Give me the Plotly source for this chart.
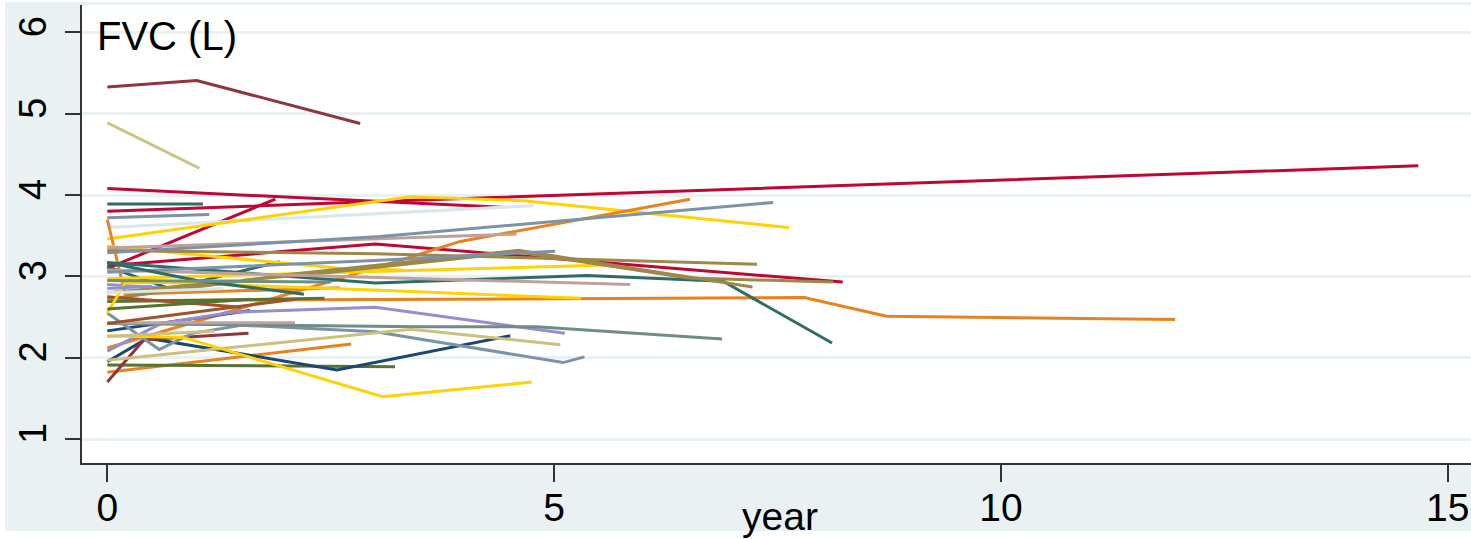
import plotly.graph_objects as go

# ---- data: one list of follow-up years and one list of FVC values per subject ----
subject_years = [
    [0, 1.0, 2.83], [0, 1.03], [0, 3.0, 4.42], [0, 3.0, 14.67], [0, 1.88],
    [0, 3.0, 8.23], [0, 1.07], [0, 1.14], [0, 4.77], [0, 3.39, 4.66, 7.63],
    [0, 0.2, 2.6], [0, 2.73], [0, 3.05, 3.95, 6.52], [0, 7.8, 8.72, 11.95],
    [0, 3.0, 5.37, 6.89, 8.11], [0, 0.7, 1.93], [0, 2.43], [0, 3.22],
    [0, 0.45, 2.57, 4.51], [0, 1.6], [0, 0.6, 1.4, 3.0, 5.12], [0, 1.0],
    [0, 0.41, 1.58], [0, 0.58, 0.95, 1.5, 3.0, 5.1, 5.34], [0, 2.0, 3.5, 4.8, 6.88],
    [0, 3.4, 5.07], [0, 0.85, 3.08, 4.75], [0, 5.6], [0, 2.6, 3.3], [0, 3.05, 5.3],
    [0, 3.0, 7.27], [0, 2.0, 4.6, 7.22], [0, 2.5, 4.6, 6.5, 8.12], [0, 4.58],
    [0, 5.85], [0, 2.1], [0, 3.05, 7.45], [0, 3.05, 5.01], [0, 2.1], [0, 1.5],
    [0, 0.2, 1.5], [0, 1.0, 2.2], [0, 2.5], [0, 1.2], [0, 1.6], [0, 0.5], [0, 1.3],
]
subject_fvc = [
    [5.33, 5.41, 4.88], [4.89, 4.33], [4.08, 3.93, 3.85], [3.80, 3.92, 4.36], [3.10, 3.95],
    [3.13, 3.40, 2.93], [3.89, 3.89], [3.72, 3.76], [3.60, 3.87], [3.46, 3.98, 3.93, 3.60],
    [3.70, 2.78, 2.86], [1.82, 2.17], [2.12, 3.12, 3.43, 3.95], [2.70, 2.74, 2.51, 2.47],
    [3.17, 2.92, 3.01, 2.94, 2.18], [3.12, 2.85, 3.18], [2.69, 2.73], [1.91, 1.89],
    [1.95, 2.24, 1.85, 2.27], [2.33, 2.58], [2.08, 2.42, 2.56, 2.62, 2.30], [2.90, 2.83],
    [1.70, 2.22, 2.30], [2.55, 2.10, 2.30, 2.40, 2.32, 1.94, 2.01], [2.42, 2.40, 2.38, 2.38, 2.23],
    [1.97, 2.35, 2.16], [2.27, 2.25, 1.52, 1.70], [2.97, 3.14], [3.37, 3.10, 3.08], [2.95, 2.83, 2.73],
    [3.32, 3.28, 3.15], [2.72, 3.02, 3.32, 2.87], [2.80, 3.05, 3.30, 2.98, 2.93], [3.35, 3.52],
    [3.08, 2.90], [2.43, 2.43], [3.29, 3.49, 3.91], [3.05, 3.20, 3.31], [2.42, 2.72], [2.75, 2.62],
    [2.55, 2.92, 2.95], [3.17, 2.95, 2.78], [2.95, 2.93], [2.26, 2.33], [2.60, 2.72], [2.85, 2.88], [2.80, 2.85],
]
subject_color = [
    "maroon", "khaki", "cranberry", "cranberry", "cranberry",
    "cranberry", "emerald", "emidblue", "bluishgray", "gold",
    "dkorange", "dkorange", "dkorange", "dkorange",
    "emerald", "emerald", "forest", "forest",
    "navy", "navy", "lavender", "lavender",
    "maroon", "emidblue", "teal",
    "khaki", "gold", "gold", "gold", "gold",
    "brown", "brown", "brown", "erose",
    "erose", "erose", "emidblue", "emidblue", "sienna", "sienna",
    "gold", "emerald", "teal", "khaki", "forest", "lavender", "bluishgray",
]
x_ticks = [0, 5, 10, 15]
y_ticks = [1, 2, 3, 4, 5, 6]
x_title = "year"
y_title = "FVC (L)"

# ---- styles ----
palette = {
    "maroon": "#90353b", "khaki": "#cac27e", "cranberry": "#c10534",
    "emerald": "#2d6d66", "emidblue": "#7b92a8", "bluishgray": "#d9e6eb",
    "gold": "#ffd200", "dkorange": "#e8821e", "forest": "#55752f",
    "navy": "#1a476f", "lavender": "#938dd2", "teal": "#6e8e84",
    "brown": "#9c8847", "erose": "#bfa19c", "sienna": "#a0522d",
}
BG = "#EAF1F3"
FONT = "Liberation Sans, Arial, Helvetica, sans-serif"

fig = go.Figure()
for yrs, vals, cname in zip(subject_years, subject_fvc, subject_color):
    fig.add_trace(go.Scatter(x=yrs, y=vals, mode="lines",
                             line=dict(color=palette[cname], width=3),
                             showlegend=False, hoverinfo="skip"))

fig.update_layout(
    width=1471, height=539,
    margin=dict(l=82, r=0, t=5, b=76),
    paper_bgcolor=BG, plot_bgcolor="white",
    font=dict(family=FONT, color="black"),
    showlegend=False,
)
fig.update_xaxes(
    range=[-0.283, 15.26], tickmode="array", tickvals=x_ticks,
    ticks="outside", ticklen=17, tickwidth=1.5, tickcolor="#333333",
    showline=True, linecolor="#333333", linewidth=1.5,
    showgrid=False, zeroline=False, ticklabelstandoff=-8,
    tickfont=dict(size=39, family=FONT, color="black"),
)
fig.update_yaxes(
    range=[0.705, 6.338], tickmode="array", tickvals=y_ticks,
    ticks="outside", ticklen=15, tickwidth=1.5, tickcolor="#333333",
    showline=True, linecolor="#333333", linewidth=1.5,
    showgrid=True, gridcolor=BG, gridwidth=2.5, zeroline=False,
    tickangle=-90, ticklabelstandoff=4,
    tickfont=dict(size=38, family=FONT, color="black"),
)

fig.add_annotation(text=y_title, xref="paper", yref="paper",
                   x=(95 - 82) / 1389, y=(463 - 12) / 458,
                   xanchor="left", yanchor="top", showarrow=False,
                   font=dict(size=40, family=FONT, color="black"))
fig.add_annotation(text=x_title, xref="paper", yref="paper",
                   x=(780 - 82) / 1389, y=(463 - 516) / 458,
                   xanchor="center", yanchor="middle", showarrow=False,
                   font=dict(size=39, family=FONT, color="black"))

# thin white outer border of the original picture
def px_x(p):
    return (p - 82) / 1389

def px_y(p):
    return (463 - p) / 458

for x0, x1, y0, y1 in [(0, 5, 0, 539), (0, 1471, 531, 539), (0, 1471, 0, 2)]:
    fig.add_shape(type="rect", xref="paper", yref="paper",
                  x0=px_x(x0), x1=px_x(x1), y0=px_y(y1), y1=px_y(y0),
                  fillcolor="white", line=dict(width=0), layer="above")

fig.write_html("out.html", config={"displayModeBar": False},
               post_script="document.body.style.margin='0';document.body.style.overflow='hidden';")
